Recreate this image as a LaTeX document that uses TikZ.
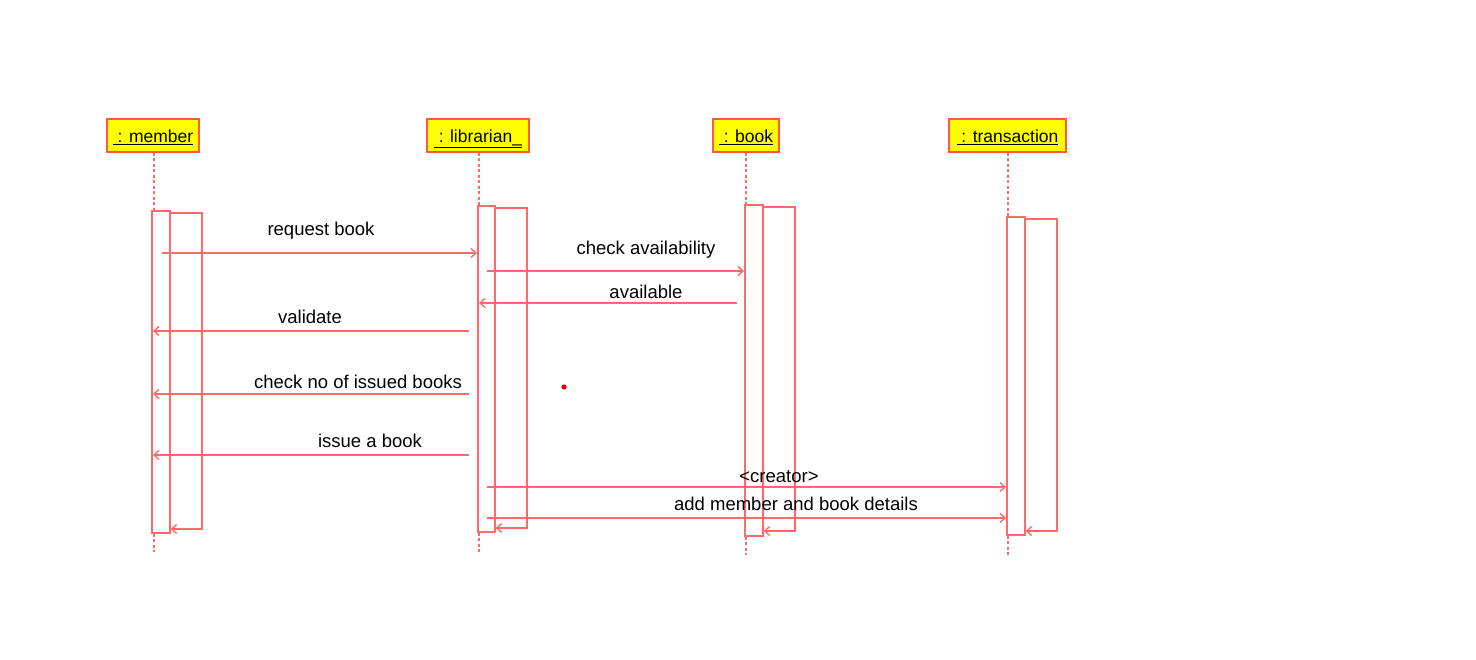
\documentclass[tikz,border=0pt]{standalone}
\usepackage{fontspec}
\setmainfont{Liberation Sans}
\usetikzlibrary{arrows.meta}
\definecolor{ln}{RGB}{255,105,105}
\definecolor{hb}{RGB}{255,90,60}
\definecolor{hy}{RGB}{255,255,0}
\tikzset{
  hdr/.style={draw=hb, fill=hy, line width=1.5pt, minimum height=33pt, inner sep=0pt, font=\fontsize{17.5}{20}\selectfont},
  life/.style={draw=ln, line width=1.4pt, dash pattern=on 3pt off 2.5pt},
  act/.style={draw=ln, line width=1.6pt, inner sep=0pt, anchor=north west},
  ret/.style={draw=ln, line width=1.4pt, -{Straight Barb[length=5pt,width=9pt]}},
  msg/.style={draw=ln, line width=1.4pt, -{Straight Barb[length=5pt,width=9pt]}},
  lbl/.style={font=\fontsize{18.5}{22}\selectfont, inner sep=0pt}
}
\newcommand{\hdrtxt}[1]{\raisebox{-7pt}[0pt][0pt]{\underline{#1}}}
\begin{document}
\begin{tikzpicture}[x=1pt,y=-1pt]
\useasboundingbox (0,0) rectangle (1476,660);
% headers
\node[hdr, minimum width=92pt] (hm) at (153,135.5) {\hdrtxt{\ : member}};
\node[hdr, minimum width=102pt] (hl) at (478,135.5) {\hdrtxt{\ : librarian\_}};
\node[hdr, minimum width=66pt] (hb) at (746,135.5) {\hdrtxt{\ : book}};
\node[hdr, minimum width=117pt] (ht) at (1007.5,135.5) {\hdrtxt{\ : transaction}};
% activation boxes
\node[act, minimum width=18pt, minimum height=322pt] (am) at (151,210) {};
\node[act, minimum width=17pt, minimum height=326pt] (al) at (477,205) {};
\node[act, minimum width=18pt, minimum height=331pt] (ab) at (744,204) {};
\node[act, minimum width=18pt, minimum height=318pt] (at) at (1006,216) {};
% lifelines
\coordinate (em) at (154,552);
\coordinate (el) at (479,552);
\coordinate (eb) at (746,555);
\coordinate (et) at (1008,555);
\draw[life] (hm.south -| em) -- (am.north -| em);
\draw[life] (am.south -| em) -- (em);
\draw[life] (hl.south -| el) -- (al.north -| el);
\draw[life] (al.south -| el) -- (el);
\draw[life] (hb.south -| eb) -- (ab.north -| eb);
\draw[life] (ab.south -| eb) -- (eb);
\draw[life] (ht.south -| et) -- (at.north -| et);
\draw[life] (at.south -| et) -- (et);
% return shapes
\draw[ret] (am.east |- 0,213) -- (202,213) -- (202,529) -- (am.east |- 0,529);
\draw[ret] (al.east |- 0,208) -- (527,208) -- (527,528) -- (al.east |- 0,528);
\draw[ret] (ab.east |- 0,207) -- (795,207) -- (795,531) -- (ab.east |- 0,531);
\draw[ret] (at.east |- 0,219) -- (1057,219) -- (1057,531) -- (at.east |- 0,531);
% messages
\coordinate (m1s) at (162,253);
\draw[msg] (m1s) -- (al.west |- m1s);
\node[lbl] (t1) at (321,231) {request book};
\coordinate (m2s) at (487,271);
\draw[msg] (m2s) -- (ab.west |- m2s);
\node[lbl] (t2) at (646,250) {check availability};
\coordinate (m3s) at (737,303);
\draw[msg] (m3s) -- (479,303);
\node[lbl] (t3) at (646,292) {available};
\coordinate (m4s) at (469,331);
\draw[msg] (m4s) -- (153,331);
\node[lbl] (t4) at (310,317) {validate};
\coordinate (m5s) at (469,394);
\draw[msg] (m5s) -- (153,394);
\node[lbl] (t5) at (358,382) {check no of issued books};
\coordinate (m6s) at (469,455);
\draw[msg] (m6s) -- (153,455);
\node[lbl] (t6) at (370,441) {issue a book};
\coordinate (m7s) at (487,487);
\draw[msg] (m7s) -- (at.west |- m7s);
\node[lbl] (t7) at (779,477) {<creator>};
\coordinate (m8s) at (487,518);
\draw[msg] (m8s) -- (at.west |- m8s);
\node[lbl] (t8) at (796,504) {add member and book details};
% stray dot
\fill[red!90!black] (564,387) circle (2.6pt);
\end{tikzpicture}
\end{document}
